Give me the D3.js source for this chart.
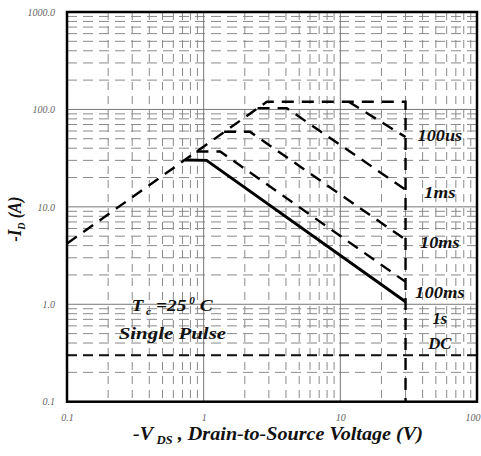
<!DOCTYPE html>
<html>
<head>
<meta charset="utf-8">
<script src="https://cdn.jsdelivr.net/npm/d3@7"></script>
<style>
  html, body { margin: 0; padding: 0; background: #fff; }
  svg { display: block; }
  text { font-family: "Liberation Serif", "Times New Roman", serif; }
</style>
</head>
<body>
<svg id="chart" width="481" height="456"></svg>
<script>
// ---- data ----
const xTickValues = [0.1, 1, 10, 100];
const xTickLabels = ["0.1", "1", "10", "100"];
const yTickValues = [0.1, 1, 10, 100, 1000];
const yTickLabels = ["0.1", "1.0", "10.0", "100.0", "1000.0"];

// Safe operating area boundaries (-V_DS in V, -I_D in A)
const envelopeV = [0.1, 2.9, 30, 30];
const envelopeI = [4.2, 120, 120, 0.1];
const us100V = [11.5, 30];
const us100I = [120, 52];
const ms1V = [2.48, 4.05, 30];
const ms1I = [103, 103, 15];
const ms10V = [1.41, 2.18, 30];
const ms10I = [59, 59, 4.6];
const ms100V = [0.885, 1.32, 30];
const ms100I = [37, 37, 1.7];
const dcV = [0.73, 1.05, 30];
const dcI = [30.3, 30, 1.06];
const refLineI = [0.3];

const curveLabels = ["100us", "1ms", "10ms", "100ms", "1s", "DC"];
const curveLabelI = [54.7, 14.2, 4.36, 1.35, 0.72, 0.40];
const curveLabelV = [53.5, 53.5, 53.5, 53.5, 53.5, 53.5];

// ---- layout ----
const svg = d3.select("#chart");
const pLeft = 67, pRight = 477, pTop = 12, pBottom = 401.7;
const x = d3.scaleLog().domain([0.1, 100]).range([pLeft, pRight]);
const y = d3.scaleLog().domain([0.1, 1000]).range([pBottom, pTop]);

// minor grid values
const minorX = [], minorY = [];
[0.1, 1, 10].forEach(d => { for (let k = 2; k <= 9; k++) minorX.push(d * k); });
[0.1, 1, 10, 100].forEach(d => { for (let k = 2; k <= 9; k++) minorY.push(d * k); });

const grid = svg.append("g");
grid.selectAll(".vmin").data(minorX).join("line")
  .attr("x1", d => x(d)).attr("x2", d => x(d))
  .attr("y1", pTop).attr("y2", pBottom)
  .attr("stroke", "#8a8a8a").attr("stroke-width", 1)
  .attr("stroke-dasharray", "8,6");
grid.selectAll(".hmin").data(minorY).join("line")
  .attr("y1", d => y(d)).attr("y2", d => y(d))
  .attr("x1", pLeft).attr("x2", pRight)
  .attr("stroke", "#8a8a8a").attr("stroke-width", 1)
  .attr("stroke-dasharray", "10,6");
grid.selectAll(".vmaj").data(xTickValues).join("line")
  .attr("x1", d => x(d)).attr("x2", d => x(d))
  .attr("y1", pTop).attr("y2", pBottom)
  .attr("stroke", "#777").attr("stroke-width", 1);
grid.selectAll(".hmaj").data(yTickValues).join("line")
  .attr("y1", d => y(d)).attr("y2", d => y(d))
  .attr("x1", pLeft).attr("x2", pRight)
  .attr("stroke", "#777").attr("stroke-width", 1);

// reference dashed line
svg.selectAll(".ref").data(refLineI).join("line")
  .attr("x1", pLeft).attr("x2", pRight)
  .attr("y1", d => y(d)).attr("y2", d => y(d))
  .attr("stroke", "#111").attr("stroke-width", 2)
  .attr("stroke-dasharray", "10,6");

// curves
const line = d3.line().x(d => x(d[0])).y(d => y(d[1]));
const curves = [
  { v: envelopeV, i: envelopeI, dash: "12,8", w: 2.4 },
  { v: us100V, i: us100I, dash: "12,8", w: 2.4 },
  { v: ms1V, i: ms1I, dash: "12,8", w: 2.4 },
  { v: ms10V, i: ms10I, dash: "12,8", w: 2.4 },
  { v: ms100V, i: ms100I, dash: "12,8", w: 2.4 },
  { v: dcV, i: dcI, dash: null, w: 3 }
];
svg.append("g").selectAll("path").data(curves).join("path")
  .attr("d", c => line(d3.zip(c.v, c.i)))
  .attr("fill", "none").attr("stroke", "#000")
  .attr("stroke-width", c => c.w)
  .attr("stroke-dasharray", c => c.dash)
  .attr("stroke-linejoin", "miter");

// frame
svg.append("rect")
  .attr("x", pLeft).attr("y", pTop)
  .attr("width", pRight - pLeft).attr("height", pBottom - pTop)
  .attr("fill", "none").attr("stroke", "#000").attr("stroke-width", 2.5);

// axes (labels only)
const yAxis = d3.axisLeft(y).tickValues(yTickValues)
  .tickFormat((d, i) => yTickLabels[i]).tickSize(0).tickPadding(12);
const gy = svg.append("g").attr("transform", `translate(${pLeft},0)`).call(yAxis);
gy.select(".domain").remove();
gy.selectAll("text").attr("font-family", "Liberation Serif").attr("font-style", "italic")
  .attr("font-size", 10).attr("fill", "#666");

const xAxis = d3.axisBottom(x).tickValues(xTickValues)
  .tickFormat((d, i) => xTickLabels[i]).tickSize(0).tickPadding(12);
const gx = svg.append("g").attr("transform", `translate(0,${pBottom})`).call(xAxis);
gx.select(".domain").remove();
gx.selectAll("text").attr("font-family", "Liberation Serif").attr("font-style", "italic")
  .attr("font-size", 10).attr("fill", "#666");
// keep the last label inside the canvas
gx.selectAll(".tick").filter((d, i) => i === xTickValues.length - 1)
  .select("text").attr("text-anchor", "end").attr("x", 3);

// helper: stretch text horizontally to a target width
function fit(sel, cx, cy, targetW, rotate) {
  const bw = sel.node().getBBox().width;
  const s = targetW / bw;
  sel.attr("transform", `translate(${cx},${cy})` + (rotate ? ` rotate(${rotate})` : "") + ` scale(${s},1)`);
}

// curve labels
const labelWidths = { "100us": 45, "1ms": 32, "10ms": 40, "100ms": 50, "1s": 15, "DC": 25 };
curveLabels.forEach((lab, k) => {
  const t = svg.append("text")
    .attr("text-anchor", "middle")
    .attr("font-weight", "bold").attr("font-style", "italic")
    .attr("font-size", 17).attr("fill", "#111")
    .text(lab);
  fit(t, x(curveLabelV[k]), y(curveLabelI[k]) + 6, labelWidths[lab]);
});

// annotation Tc = 25 C
const tc = svg.append("text")
  .attr("text-anchor", "middle")
  .attr("font-weight", "bold").attr("font-style", "italic")
  .attr("font-size", 17).attr("fill", "#111");
tc.append("tspan").text("T");
tc.append("tspan").attr("font-size", 10).attr("dy", 4).text(" c");
tc.append("tspan").attr("dy", -4).text(" =25");
tc.append("tspan").attr("font-size", 10).attr("dy", -7).text(" 0");
tc.append("tspan").attr("dy", 7).text(" C");
fit(tc, x(0.587), y(0.98) + 6, 82);

const sp = svg.append("text")
  .attr("text-anchor", "middle")
  .attr("font-weight", "bold").attr("font-style", "italic")
  .attr("font-size", 17).attr("fill", "#111")
  .text("Single  Pulse");
fit(sp, x(0.59), y(0.507) + 6, 108);

// axis titles
const xt = svg.append("text")
  .attr("text-anchor", "middle")
  .attr("font-weight", "bold").attr("font-style", "italic")
  .attr("font-size", 19).attr("fill", "#111");
xt.append("tspan").text("-V");
xt.append("tspan").attr("font-size", 12).attr("dy", 4).text(" DS");
xt.append("tspan").attr("dy", -4).text(" , Drain-to-Source Voltage (V)");
fit(xt, 278, 440, 290);

const yt = svg.append("text")
  .attr("text-anchor", "middle")
  .attr("font-weight", "bold").attr("font-style", "italic")
  .attr("font-size", 18).attr("fill", "#111");
yt.append("tspan").text("-I");
yt.append("tspan").attr("font-size", 11).attr("dy", 4).text("D");
yt.append("tspan").attr("dy", -4).text(" (A)");
fit(yt, 21, 219, 45, -90);
</script>
</body>
</html>
